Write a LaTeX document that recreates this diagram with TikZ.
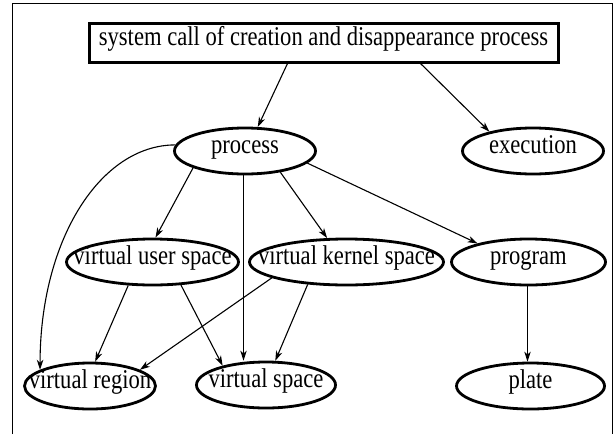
\documentclass[tikz,border=0pt]{standalone}
\usepackage{fontspec}
\usepackage{graphicx}
\setmainfont{Liberation Serif}
\usetikzlibrary{shapes.geometric,arrows.meta}
\newcommand{\tallt}[1]{\scalebox{1}[1.2]{#1}}
\begin{document}
\begin{tikzpicture}[x=1pt,y=-1pt,
  font=\fontsize{22.6}{26}\selectfont,
  ell/.style={ellipse,draw,line width=2.8pt,minimum height=46,inner sep=0pt,
    text height=0.8em,text depth=0.24em},
  headbox/.style={rectangle,draw,line width=3pt,minimum width=469,minimum height=39,inner sep=0pt,
    text height=0.8em,text depth=0.24em},
  arr/.style={line width=1.1pt,-{Stealth[length=10pt,width=6.5pt,inset=3pt]}},
  frame/.style={line width=1pt}]
\useasboundingbox (0,0) rectangle (615,434);
\draw[frame] (12,434) -- (12,3) -- (612,3) -- (612,434);

\node[headbox] (head) at (323.5,42.5) {\tallt{system call of creation and disappearance process}};

\node[ell,minimum width=141] (process) at (245,151) {\makebox[0pt]{\tallt{process}}};
\node[ell,minimum width=141] (execution) at (533,151) {\makebox[0pt]{\tallt{execution}}};
\node[ell,minimum width=172] (vus) at (152.5,262) {\makebox[0pt]{\tallt{virtual user space}}};
\node[ell,minimum width=194] (vks) at (346.5,262) {\makebox[0pt]{\tallt{virtual kernel space}}};
\node[ell,minimum width=154] (program) at (528.5,262) {\makebox[0pt]{\tallt{program}}};
\node[ell,minimum width=131] (vregion) at (90,386) {\makebox[0pt]{\tallt{virtual region}}};
\node[ell,minimum width=139] (vspace) at (266,385) {\makebox[0pt]{\tallt{virtual space}}};
\node[ell,minimum width=148] (plate) at (530.5,386) {\makebox[0pt]{\tallt{plate}}};

\draw[arr] ([xshift=-36pt]head.south) -- (process.62);
\draw[arr] ([xshift=97pt]head.south) -- (execution.156);
\draw[arr] (process.-162) -- (vus.83);
\draw[arr] (process.-31) -- (vks.129);
\draw[arr] (process.-11) -- (program.160);
\draw[arr] ([xshift=-1.5pt]process.south) -- ([xshift=-1.5pt]process.south |- vspace.north);
\draw[arr] (process.175) .. controls +(-75,0) and +(0,-130) .. (vregion.162);
\draw[arr] (vus.-136) -- (vregion.78);
\draw[arr] (vus.-39) -- (vspace.156);
\draw[arr] (vks.192) -- (vregion.18);
\draw[arr] (vks.-150) -- (vspace.69);
\draw[arr] ([xshift=-1pt]program.south) -- ([xshift=-1pt]program.south |- plate.north);
\end{tikzpicture}
\end{document}
